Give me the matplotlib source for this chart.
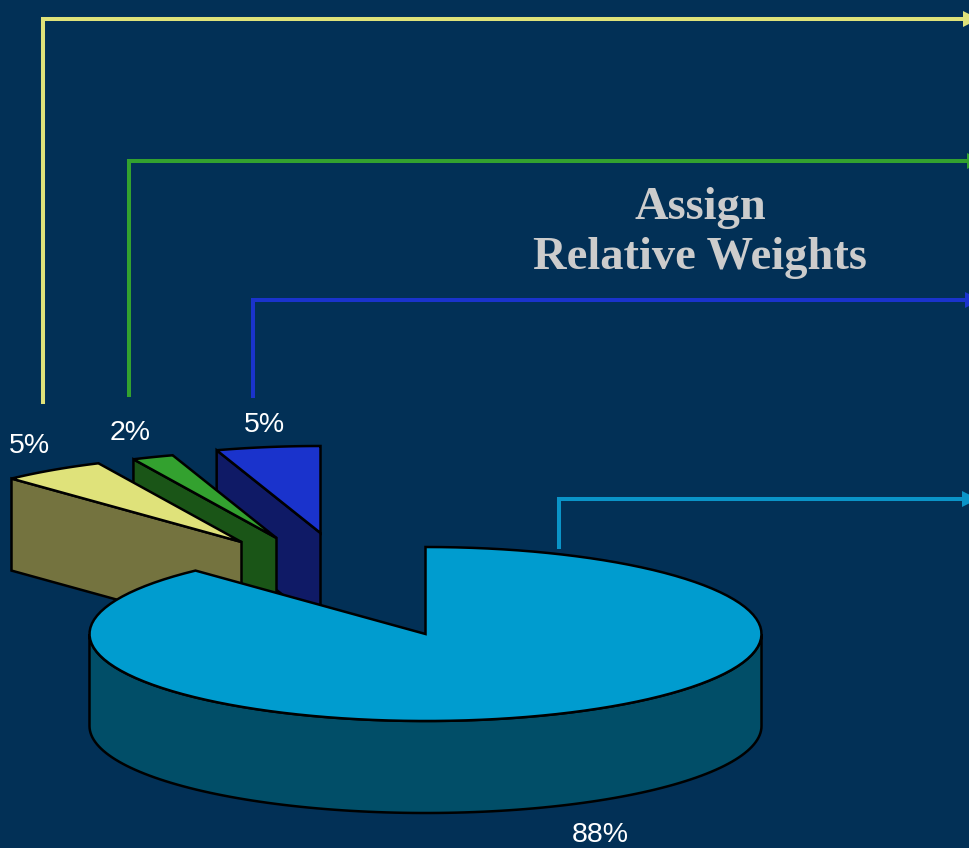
import numpy as np
import matplotlib
matplotlib.use("Agg")
import matplotlib.pyplot as plt
from matplotlib.patches import Polygon

# Pie shares, in drawing order going clockwise from 12 o'clock
shares = [88, 5, 2, 5]
share_labels = ["88%", "5%", "2%", "5%"]

top_colors = ["#009CCF", "#DFE27A", "#33A12F", "#1A33CC"]
side_colors = ["#014E68", "#74733F", "#1A5517", "#0F1A66"]
leader_colors = ["#0A94C8", "#DFE27A", "#33A12F", "#1A33CC"]

BG = "#023056"
CX, CY = 425.5, 634
RX, RY = 336, 87
DEPTH = 92

# Pulled-out offset of each wedge
offsets = [(0, 0), (-184, -92), (-149, -96), (-105, -101)]
label_pos = [(600, 835.5), (29.5, 446), (130, 433), (264, 425)]
# Leader lines: x of the riser, y it starts from, y of the horizontal run, arrow head start
leaders = [(559, 549, 499, 962), (43, 404, 19, 963), (129, 397, 161, 967), (253, 398, 300, 965)]


def arc_points(a0, a1, dx, dy, n=120):
    ang = np.radians(np.linspace(a0, a1, n))
    return np.column_stack([CX + dx + RX * np.cos(ang), CY + dy - RY * np.sin(ang)])


fig = plt.figure(figsize=(9.7, 8.48), dpi=100, facecolor=BG)
ax = fig.add_axes([0, 0, 1, 1])
ax.set_xlim(0, 970)
ax.set_ylim(848, 0)
ax.axis("off")

# Leaders sit behind the pie
for (x, y0, y1, head), col in zip(leaders, leader_colors):
    ax.plot([x, x, head], [y0, y1, y1], color=col, lw=2.9, solid_joinstyle="miter",
            solid_capstyle="butt", zorder=1)
    ax.add_patch(Polygon([(head, y1 - 8), (head + 16, y1), (head, y1 + 8)], closed=True,
                         facecolor=col, edgecolor="none", zorder=1))

# Wedge angles, clockwise from the top
edges = 90 - 3.6 * np.cumsum([0] + shares)

# Small wedges first, the big one goes on top of them
for i in [3, 2, 1, 0]:
    a0, a1 = edges[i], edges[i + 1]
    dx, dy = offsets[i]
    z = 10 if i == 0 else 2 + (4 - i)
    tip = np.array([CX + dx, CY + dy])
    arc = arc_points(a0, a1, dx, dy)
    lw = 1.8
    if i == 0:
        # outer wall of the big wedge, only the part facing the viewer
        front = arc_points(180, 360, dx, dy)
        wall = np.vstack([front, (front + [0, DEPTH])[::-1]])
    else:
        # cut face on the left edge of a pulled wedge
        p = arc[0]
        wall = np.array([p, tip, tip + [0, DEPTH], p + [0, DEPTH]])
    ax.add_patch(Polygon(wall, closed=True, facecolor=side_colors[i], edgecolor="black",
                         lw=lw, zorder=z, joinstyle="miter"))
    ax.add_patch(Polygon(np.vstack([tip, arc]), closed=True, facecolor=top_colors[i],
                         edgecolor="black", lw=lw, zorder=z + 0.5, joinstyle="miter"))

for txt, (x, y) in zip(share_labels, label_pos):
    ax.text(x, y, txt, color="white", fontsize=20.5, family="Liberation Sans",
            ha="center", va="center", zorder=20)

ax.text(700, 233, "Assign\nRelative Weights", color="#CCCCCC", fontsize=33.5, weight="bold",
        family="Liberation Serif", ha="center", va="center", linespacing=1.25, zorder=20)

fig.savefig("out.png", dpi=100, facecolor=BG)
